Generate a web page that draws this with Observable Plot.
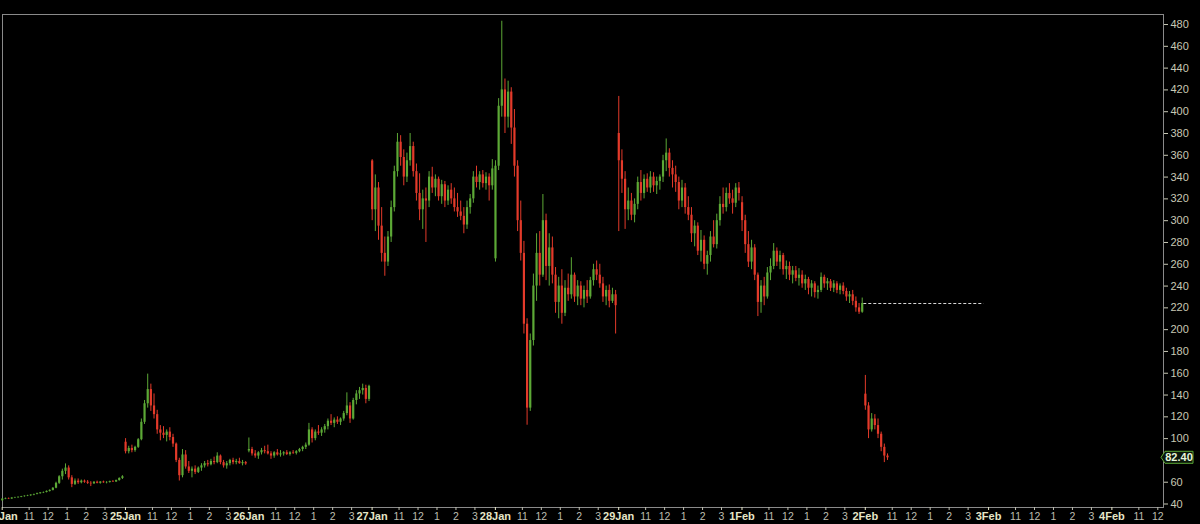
<!DOCTYPE html>
<html><head><meta charset="utf-8">
<script src="https://cdn.jsdelivr.net/npm/d3@7"></script>
<script src="https://cdn.jsdelivr.net/npm/@observablehq/plot@0.6"></script>
<style>html,body{margin:0;padding:0;background:#000;overflow:hidden}</style>
</head><body><div id="chart"></div>
<script>
// ---- labels / ticks ----
const dayLabels = ["22Jan","25Jan","26Jan","27Jan","28Jan","29Jan","1Feb","2Feb","3Feb","4Feb"];
const hourLabels = ["11","12","1","2","3"];
const hourSlots = [9, 15, 21, 27, 33];   // 10-minute slots after the 9:30 open
const barsPerDay = 39;                  // 10-minute bars per session
const yTicks = [40,60,80,100,120,140,160,180,200,220,240,260,280,300,320,340,360,380,400,420,440,460,480];

// ---- OHLC bars [open, high, low, close], 10-minute ----
const jan22 = [
[43,45,42.5,44.5],[44.5,45.5,44,45],[45,45.5,44.2,44.6],[44.6,45.8,44.3,45.5],[45.5,46.2,45,45.8],
[45.8,46.5,45.2,46.2],[46.2,47,45.8,46.8],[46.8,47.5,46.2,47.2],[47.2,48,46.8,47.6],[47.6,48.5,47,48.2],
[48.2,49,47.6,48.8],[48.8,50,48.4,49.5],[49.5,50.5,49,50.2],[50.2,51,49.6,50.6],[50.6,52,50.2,51.6],
[51.6,53,51,52.5],[52.5,55,52,54.5],[54.5,60,54,59],[59,66,58,65],[65,72,62,70],
[70,76.8,67,73],[73,75,62,64],[64,66,55,58],[58,63,57,61],[61,63,58,59.5],
[59.5,62,58.5,61],[61,62,59,60],[60,61.5,58,59],[59,60.5,56,58.5],[58.5,60.5,58,60],
[60,61,58.5,59],[59,60.5,58.2,60.2],[60.2,61,59,59.5],[59.5,60.5,58.5,59.8],[59.8,61,59.2,60.6],
[60.6,61.5,59.8,60.2],[60.2,62,59.8,61.5],[61.5,64,61,63.5],[63.5,66,62.5,65]
];
const jan25 = [
[96.7,100,86,88],[88,93,86,91],[91,94,87,89],[89,93,87.5,92],[92,100,91,99],
[99,118,98,115],[115,135,113,132],[132,159.2,128,145],[145,150,125,130],[130,141,118,122],
[122,126,104,108],[108,112,98,105],[105,111,100,103],[103,108,97,106],[106,110,98,101],
[101,104,92,95],[95,96,78,80],[80,82,61.1,66],[66,90,64,85],[85,89,72,74],
[74,79,68,70],[70,74,64,72],[72,75,67,69],[69,74,68,73],[73,77,70,75],
[75,79,73,77],[77,80,74,76],[76,81,75,79],[79,83,76,78],[78,87,77,84],
[84,85,76,78],[78,80,73,75],[75,79,72,77],[77,81,75,80],[80,82,76,78],
[78,81,76,79],[79,82,76.5,77],[77,80,75,78],[78,79,75.5,76.8]
];
const jan26 = [
[88.6,100.6,87,90],[90,92,84,86],[86,89,82,84],[84,88,81,87],[87,91,85,89],
[89,93,86,88],[88,94,85,86],[86,88,81,84],[84,88,82,87],[87,90,84,85],
[85,89,83,86],[86,88,84,87],[87,89,84.5,85.5],[85.5,88,84,87],[87,89,85.5,86.5],
[86.5,89,85,88],[88,91,87,90],[90,93,88,92],[92,96,90,94],[94,114,93,108],
[108,110,96,100],[100,108,98,106],[106,112,103,105],[105,110,102,108],[108,113,105,111],
[111,118,108,116],[116,122,112,114],[114,119,110,117],[117,120,113,115],[115,119,112,118],
[118,125,116,123],[123,142,121,130],[130,133,114,118],[118,137,117,135],[135,144,131,141],
[141,147,136,144],[144,150,140,146],[146,149,132,136],[136,149,134,148]
];
const jan27 = [
[354.8,356,300,310],[310,342,290,330],[330,335,282,295],[295,312,262,270],[270,285,249,262],
[262,290,258,285],[285,318,280,312],[312,350,308,345],[345,380,340,372],[372,378,350,358],
[358,365,332,340],[340,362,335,355],[355,380,350,368],[368,372,340,345],[345,352,318,325],
[325,343,300,310],[310,328,292,320],[320,330,280,318],[318,345,312,340],[340,349,325,330],
[330,342,322,338],[338,340,318,322],[322,337,315,333],[333,336,312,318],[318,332,314,328],
[328,334,315,320],[320,330,308,312],[312,325,303,308],[308,318,300,304],[304,312,288,296],
[296,318,292,312],[312,324,306,320],[320,345,316,340],[340,350,330,335],[335,345,328,342],
[342,346,330,334],[334,344,328,340],[340,343,318,332],[332,356,328,347.5]
];
const jan28 = [
[265,355,262,350],[350,412,346,405],[405,483,395,420],[420,430,380,395],[395,428,385,418],
[418,422,370,385],[385,402,340,350],[350,355,290,300],[300,318,263,270],[270,281,196,205],
[205,210,112.3,128],[128,196,125,190],[190,251,185,240],[240,288,226,270],[270,290,240,250],
[250,324,248,300],[300,306,245,258],[258,288,240,275],[275,285,242,250],[250,257,215,225],
[225,248,210,240],[240,255,205,215],[215,245,212,238],[238,251,226,232],[232,266,228,250],
[250,252,225,230],[230,245,222,240],[240,244,222,228],[228,240,220,236],[236,245,224,230],
[230,248,228,245],[245,260,240,255],[255,263,245,250],[250,260,238,242],[242,248,225,230],
[230,240,222,236],[236,241,220,226],[226,238,224,232],[232,236,196,222]
];
const jan29 = [
[380,414,290,355],[355,365,325,338],[338,345,292,310],[310,330,300,318],[318,325,300,305],
[305,320,298,315],[315,340,310,335],[335,346,318,325],[325,342,320,338],[338,343,326,330],
[330,345,325,340],[340,344,326,332],[332,340,324,336],[336,342,328,340],[340,360,335,355],
[355,375,345,362],[362,366,340,348],[348,355,330,342],[342,350,326,335],[335,340,310,318],
[318,337,312,330],[330,334,306,312],[312,322,300,305],[305,312,280,288],[288,300,276,295],
[295,298,268,272],[272,291,262,282],[282,286,255,260],[260,272,250,268],[268,290,262,285],
[285,300,275,278],[278,306,274,300],[300,322,295,315],[315,330,306,312],[312,330,308,325],
[325,334,315,320],[320,328,306,316],[316,334,312,330],[330,335,318,325]
];
const feb01 = [
[316.5,322,290,300],[300,305,270,278],[278,290,257,262],[262,282,255,275],[275,278,245,250],
[250,252,212,225],[225,245,215,240],[240,248,222,230],[230,257,228,252],[252,265,245,258],
[258,279,255,272],[272,275,258,262],[262,272,255,268],[268,270,250,255],[255,263,246,258],
[258,262,245,250],[250,258,242,254],[254,258,244,247],[247,256,240,250],[250,254,238,242],
[242,250,236,246],[246,248,232,238],[238,245,230,242],[242,244,229,234],[234,240,228,236],
[236,252,234,248],[248,250,238,242],[242,247,236,244],[244,246,235,238],[238,245,234,242],
[242,244,233,236],[236,242,232,240],[240,243,232,235],[235,238,226,230],[230,235,224,232],
[232,236,222,226],[226,230,216,220],[220,224,214,216],[216,229,215,224]
];
const feb02 = [
[140.8,158,126,130],[130,133,100,108],[108,123,106,118],[118,122,108,112],
[112,118,100,104],[104,106,88,92],[92,95,78,84],[84,86,80,82.4]
];

const sessions = [jan22, jan25, jan26, jan27, jan28, jan29, feb01, feb02];
const GREEN = "#5ca836", RED = "#e33a2a";
const xDomain = [0.57, 367.8];

const bars = sessions.flatMap((day, d) => day.map(([open, high, low, close], i) => ({
  x: d * barsPerDay + i + 0.5, open, high, low, close
})));
const lastClose = feb02[feb02.length - 1][3];
const prevClose = feb01[feb01.length - 1][3];
const feb2Index = sessions.indexOf(feb02);

const dayTicks = dayLabels.map((_, d) => d * barsPerDay);
const dayMap = new Map(dayTicks.map((t, d) => [t, dayLabels[d]]));
const hourPairs = dayLabels.flatMap((_, d) => hourSlots.map((h, k) => [d * barsPerDay + h, hourLabels[k]]))
  .filter(([t]) => t <= xDomain[1]);
const hourTicks = hourPairs.map(p => p[0]);
const hourMap = new Map(hourPairs);

const priceTag = (index, scales, values, dim) => {
  const y = scales.y(lastClose);
  const x0 = dim.width - dim.marginRight;
  const g = d3.create("svg:g");
  g.append("path")
    .attr("d", `M${x0 - 2},${y} L${x0 + 2},${y - 6} H${x0 + 30} V${y + 6} H${x0 + 2} Z`)
    .attr("fill", "#0b160b").attr("stroke", "#5ca836").attr("stroke-width", 1);
  g.append("text").attr("x", x0 + 16).attr("y", y).attr("dy", "0.35em")
    .attr("text-anchor", "middle").attr("fill", "#e6f5dc")
    .attr("font-size", 11).attr("font-weight", "bold").text(lastClose.toFixed(2));
  return g.node();
};

const chart = Plot.plot({
  width: 1200, height: 524,
  marginLeft: 2, marginRight: 37, marginTop: 14, marginBottom: 17,
  style: {background: "#000", color: "#c8c8b4", fontFamily: "'Liberation Sans', Arial, sans-serif"},
  x: {type: "linear", domain: xDomain, axis: null},
  y: {domain: [36.8, 489.2], axis: null},
  marks: [
    Plot.frame({stroke: "#8a8a8a"}),
    Plot.axisY(yTicks, {anchor: "right", tickSize: 4, tickPadding: 3, fontSize: 11, color: "#c8c8b4", label: null,
      tickFormat: d => Math.abs(d - lastClose) < 10 ? "" : String(d)}),
    Plot.axisX(hourTicks, {anchor: "bottom", tickSize: 3, tickPadding: 2, fontSize: 10.5, color: "#bdbdb0",
      tickFormat: d => hourMap.get(d), label: null}),
    Plot.axisX(dayTicks, {anchor: "bottom", tickSize: 3, tickPadding: 2, fontSize: 11, fontWeight: "bold",
      color: "#e6e6c8", dx: 1.5, tickFormat: d => dayMap.get(d), label: null}),
    Plot.ruleY([prevClose], {x1: feb2Index * barsPerDay, x2: (feb2Index + 1) * barsPerDay - 1,
      stroke: "#d8d8d8", strokeDasharray: "3,2", strokeWidth: 1}),
    Plot.ruleX(bars, {x: "x", y1: "low", y2: "high", strokeWidth: 1,
      stroke: d => d.close >= d.open ? GREEN : RED}),
    Plot.ruleX(bars, {x: "x", y1: "open", y2: "close", strokeWidth: 2.2,
      stroke: d => d.close >= d.open ? GREEN : RED}),
    priceTag
  ]
});
document.getElementById("chart").append(chart);
</script>
</body></html>
